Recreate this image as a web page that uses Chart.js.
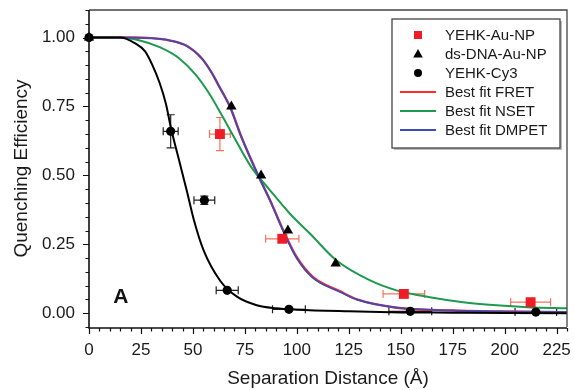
<!DOCTYPE html>
<html>
<head>
<meta charset="utf-8">
<script src="https://cdn.jsdelivr.net/npm/chart.js@4/dist/chart.umd.min.js"></script>
<style>
  html, body { margin: 0; padding: 0; background: #fff; }
  #wrap { width: 574px; height: 390px; }
</style>
</head>
<body>
<div id="wrap"><canvas id="c" width="574" height="390"></canvas></div>
<script>
// ---------------- data ----------------
// YEHK-Au-NP (red squares)
const auNpX   = [63, 93, 151.5, 212.5];
const auNpY   = [0.65, 0.27, 0.07, 0.04];
const auNpXe  = [5, 8, 10, 9.6];
const auNpYe  = [0.06, 0, 0, 0];

// ds-DNA-Au-NP (black triangles)
const dnaX = [0, 68.5, 82.8, 95.7, 118.7];
const dnaY = [1.0, 0.75, 0.50, 0.30, 0.18];

// YEHK-Cy3 (black circles)
const cy3X  = [0, 39.3, 55.5, 66.5, 96.2, 154.6, 215];
const cy3Y  = [1.0, 0.66, 0.41, 0.083, 0.014, 0.007, 0.004];
const cy3Xe = [0, 3.6, 5, 5.3, 7.9, 10.3, 10];
const cy3Ye = [0, 0.06, 0.015, 0, 0, 0, 0];

// Fit curve through YEHK-Cy3 (black, not in legend)
const cy3FitX = [0, 15, 22, 27, 30.5, 34, 37, 39.5, 43.5, 47.2, 50.4, 55.2, 63.2, 71.2, 80.7, 90, 100, 125, 150, 175, 200, 230];
const cy3FitY = [1.0, 1.0, 0.98, 0.95, 0.9, 0.835, 0.76, 0.67, 0.55, 0.44, 0.34, 0.227, 0.117, 0.06, 0.029, 0.018, 0.013, 0.007, 0.003, 0.002, 0.001, 0.0];

// Best fit FRET (red)
const fretX = [0, 20, 30, 38.6, 46.7, 54.3, 59, 62.4, 68, 73.3, 81.4, 87.1, 93.5, 99.9, 107.7, 120.6, 129, 148, 175, 200, 230];
const fretY = [1.0, 1.0, 0.998, 0.99, 0.971, 0.924, 0.873, 0.826, 0.746, 0.64, 0.5, 0.41, 0.30, 0.204, 0.132, 0.08, 0.05, 0.02, 0.01, 0.006, 0.004];

// Best fit NSET (green)
const nsetX = [0, 15, 24, 34, 43.3, 51.4, 57.6, 63.8, 68.6, 78.1, 87.1, 96.7, 106.3, 119, 135, 148, 164, 180, 196, 211, 230];
const nsetY = [1.0, 1.0, 0.99, 0.965, 0.925, 0.865, 0.80, 0.72, 0.655, 0.53, 0.446, 0.361, 0.289, 0.192, 0.12, 0.083, 0.058, 0.04, 0.029, 0.022, 0.018];

// Best fit DMPET (blue)
const dmpetX = [0, 20, 30, 38.6, 46.7, 54.3, 59, 62.4, 68, 73.3, 81.4, 87.1, 93.5, 99.9, 107.7, 120.6, 129, 148, 175, 200, 230];
const dmpetY = [1.0, 1.0, 0.998, 0.99, 0.971, 0.924, 0.873, 0.826, 0.746, 0.64, 0.5, 0.41, 0.298, 0.2, 0.128, 0.078, 0.049, 0.02, 0.01, 0.006, 0.004];

// axis
const xMin = 0, xMax = 230, xStep = 5, xMajor = 25;
const yMin = -0.05, yMax = 1.1, yStep = 0.05, yMajor = 0.25;
const xTitle = 'Separation Distance (Å)';
const yTitle = 'Quenching Efficiency';
const panelLabel = 'A';
const panelPos = {x: 15.3, y: 0.058};
const legendOrder = ['YEHK-Au-NP', 'ds-DNA-Au-NP', 'YEHK-Cy3', 'Best fit FRET', 'Best fit NSET', 'Best fit DMPET'];

// ---------------------------------------------------------------
const zip = (xs, ys) => xs.map((x, i) => ({x, y: ys[i]}));
const FONT = '"Liberation Sans", Arial, Helvetica, sans-serif';

const isMult = (v, m) => Math.abs(v / m - Math.round(v / m)) < 1e-6;

const decor = {
  id: 'decor',
  beforeDatasetsDraw(chart) {
    const {ctx, scales: {x, y}} = chart;
    ctx.save();
    ctx.lineWidth = 1.2;
    chart.data.datasets.forEach(ds => {
      if (!ds.xErr) return;
      ctx.strokeStyle = ds.errColor;
      ds.data.forEach((p, i) => {
        const px = x.getPixelForValue(p.x), py = y.getPixelForValue(p.y);
        const xe = ds.xErr[i], ye = ds.yErr[i];
        const cap = 4;
        if (xe > 0) {
          const x1 = x.getPixelForValue(p.x - xe), x2 = x.getPixelForValue(p.x + xe);
          ctx.beginPath();
          ctx.moveTo(x1, py); ctx.lineTo(x2, py);
          ctx.moveTo(x1, py - cap); ctx.lineTo(x1, py + cap);
          ctx.moveTo(x2, py - cap); ctx.lineTo(x2, py + cap);
          ctx.stroke();
        }
        if (ye > 0) {
          const y1 = y.getPixelForValue(p.y - ye), y2 = y.getPixelForValue(p.y + ye);
          ctx.beginPath();
          ctx.moveTo(px, y1); ctx.lineTo(px, y2);
          ctx.moveTo(px - cap, y1); ctx.lineTo(px + cap, y1);
          ctx.moveTo(px - cap, y2); ctx.lineTo(px + cap, y2);
          ctx.stroke();
        }
      });
    });
    ctx.restore();
  },
  afterDraw(chart) {
    const {ctx, chartArea: a, scales: {x, y}} = chart;
    ctx.save();
    // frame top/right
    ctx.strokeStyle = '#444';
    ctx.lineWidth = 1.3;
    ctx.beginPath();
    ctx.moveTo(a.left, a.top); ctx.lineTo(a.right, a.top); ctx.lineTo(a.right, a.bottom);
    ctx.stroke();
    // axes
    ctx.strokeStyle = '#111';
    ctx.lineWidth = 1.6;
    ctx.beginPath();
    ctx.moveTo(a.left, a.top); ctx.lineTo(a.left, a.bottom + 1); ctx.lineTo(a.right, a.bottom + 1);
    ctx.stroke();
    // ticks
    ctx.lineWidth = 1.2;
    ctx.beginPath();
    x.ticks.forEach(t => {
      const px = Math.round(x.getPixelForValue(t.value)) + 0.5;
      const len = isMult(t.value, xMajor) ? 6 : 3.5;
      ctx.moveTo(px, a.bottom + 1); ctx.lineTo(px, a.bottom + 1 + len);
    });
    y.ticks.forEach(t => {
      const py = Math.round(y.getPixelForValue(t.value)) + 0.5;
      const len = isMult(t.value, yMajor) ? 6 : 3.5;
      ctx.moveTo(a.left, py); ctx.lineTo(a.left - len, py);
    });
    ctx.stroke();

    // panel label
    ctx.fillStyle = '#111';
    ctx.font = 'bold 21px ' + FONT;
    ctx.textAlign = 'center';
    ctx.textBaseline = 'middle';
    ctx.fillText(panelLabel, x.getPixelForValue(panelPos.x), y.getPixelForValue(panelPos.y));

    // legend
    const bw = 168, bh = 129;
    const bx = a.right - 175, by = a.top + 9;
    ctx.fillStyle = '#bbb';
    ctx.fillRect(bx + 2, by + 2, bw, bh);
    ctx.fillStyle = '#fff';
    ctx.fillRect(bx, by, bw, bh);
    ctx.strokeStyle = '#444';
    ctx.lineWidth = 1.3;
    ctx.strokeRect(bx, by, bw, bh);
    ctx.font = '15px ' + FONT;
    ctx.textAlign = 'left';
    ctx.textBaseline = 'middle';
    legendOrder.forEach((lab, i) => {
      const ds = chart.data.datasets.find(d => d.label === lab);
      const cy = by + 16 + i * 19;
      const cx = bx + 26;
      if (ds.showLine) {
        ctx.strokeStyle = ds.borderColor;
        ctx.lineWidth = 2;
        ctx.beginPath();
        ctx.moveTo(bx + 8, cy); ctx.lineTo(bx + 44, cy);
        ctx.stroke();
      } else {
        ctx.fillStyle = ds.backgroundColor;
        ctx.beginPath();
        if (ds.pointStyle === 'rect') {
          ctx.rect(cx - 4, cy - 4, 8, 8);
        } else if (ds.pointStyle === 'triangle') {
          ctx.moveTo(cx, cy - 5); ctx.lineTo(cx + 4.8, cy + 3.5); ctx.lineTo(cx - 4.8, cy + 3.5); ctx.closePath();
        } else {
          ctx.arc(cx, cy, 4, 0, Math.PI * 2);
        }
        ctx.fill();
      }
      ctx.fillStyle = '#1a1a1a';
      ctx.fillText(lab, bx + 53, cy + 1);
    });
    ctx.restore();
  }
};

new Chart(document.getElementById('c'), {
  type: 'scatter',
  data: {
    datasets: [
      { label: 'ds-DNA-Au-NP', data: zip(dnaX, dnaY), pointStyle: 'triangle', pointRadius: 6,
        backgroundColor: '#000', borderColor: '#000', borderWidth: 0, showLine: false, clip: false },
      { label: 'YEHK-Au-NP', data: zip(auNpX, auNpY), pointStyle: 'rect', pointRadius: 7,
        backgroundColor: '#ee1d25', borderColor: '#ee1d25', borderWidth: 0, showLine: false, clip: false,
        xErr: auNpXe, yErr: auNpYe, errColor: '#f4735c' },
      { label: 'YEHK-Cy3', data: zip(cy3X, cy3Y), pointStyle: 'circle', pointRadius: 4.6,
        backgroundColor: '#000', borderColor: '#000', borderWidth: 0, showLine: false, clip: false,
        xErr: cy3Xe, yErr: cy3Ye, errColor: '#222' },
      { label: 'YEHK-Cy3 fit', data: zip(cy3FitX, cy3FitY), showLine: true, pointRadius: 0,
        borderColor: '#000', backgroundColor: '#000', borderWidth: 2, cubicInterpolationMode: 'monotone' },
      { label: 'Best fit DMPET', data: zip(dmpetX, dmpetY), showLine: true, pointRadius: 0,
        borderColor: '#3b4cb8', backgroundColor: '#3b4cb8', borderWidth: 1.8, cubicInterpolationMode: 'monotone' },
      { label: 'Best fit NSET', data: zip(nsetX, nsetY), showLine: true, pointRadius: 0,
        borderColor: '#1e9a4f', backgroundColor: '#1e9a4f', borderWidth: 2, cubicInterpolationMode: 'monotone' },
      { label: 'Best fit FRET', data: zip(fretX, fretY), showLine: true, pointRadius: 0,
        borderColor: '#ff2a2a', backgroundColor: '#ff2a2a', borderWidth: 2.4, cubicInterpolationMode: 'monotone' }
    ]
  },
  options: {
    responsive: false,
    animation: false,
    events: [],
    layout: { padding: { left: 0, right: 5, top: 10, bottom: 0 } },
    plugins: { legend: { display: false }, tooltip: { enabled: false } },
    scales: {
      x: {
        type: 'linear', position: 'bottom', min: xMin, max: xMax,
        grid: { display: false, drawTicks: false },
        border: { display: false },
        ticks: {
          stepSize: xStep, autoSkip: false, maxRotation: 0, padding: 13,
          color: '#1a1a1a', font: { family: FONT, size: 17 },
          callback: v => isMult(v, xMajor) ? String(Math.round(v)) : ''
        },
        title: { display: true, text: xTitle, color: '#1a1a1a', font: { family: FONT, size: 19 },
                 padding: { top: 0, bottom: 0 } },
        afterFit: s => { s.height = 63; s.paddingLeft = 0; s.paddingRight = 0; }
      },
      y: {
        type: 'linear', position: 'left', min: yMin, max: yMax,
        grid: { display: false, drawTicks: false },
        border: { display: false },
        ticks: {
          stepSize: yStep, autoSkip: false, padding: 14,
          color: '#1a1a1a', font: { family: FONT, size: 17 },
          callback: v => isMult(v, yMajor) && v >= 0 && v <= 1.0001 ? v.toFixed(2) : ''
        },
        title: { display: true, text: yTitle, color: '#1a1a1a', font: { family: FONT, size: 19 },
                 padding: { top: 10, bottom: 0 } },
        afterFit: s => { s.width = 89; s.paddingTop = 0; s.paddingBottom = 0; }
      }
    }
  },
  plugins: [decor]
});
</script>
</body>
</html>
